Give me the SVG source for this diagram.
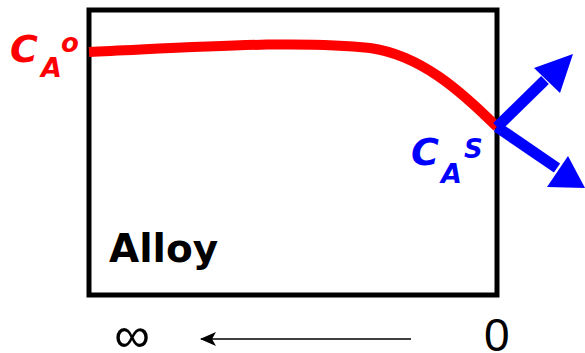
<svg xmlns="http://www.w3.org/2000/svg" width="585" height="353" viewBox="0 0 585 353">
<style>
.lbl{font-family:"DejaVu Sans",sans-serif;font-weight:bold;font-style:oblique}
.red{fill:#ff0000}
.blue{fill:#0000ff}
</style>
<defs>
<marker id="ah" markerWidth="16" markerHeight="14" refX="15" refY="7" orient="auto" markerUnits="userSpaceOnUse">
<path d="M0,0 L16,7 L0,14 L4,7 Z" fill="#000"/>
</marker>
</defs>
<g id="alloy">
<rect x="89" y="10" width="408" height="285" fill="#fff" stroke="#000" stroke-width="5"/>
<text x="109" y="262" font-family="DejaVu Sans,sans-serif" font-weight="bold" font-size="39">Alloy</text>
</g>
<g id="connectors">
<path d="M89,52 C200,47 300,40 370,48 C420,55 460,90 497,127" fill="none" stroke="#ff0000" stroke-width="10"/>
<path d="M497,127 L545,80" stroke="#0000ff" stroke-width="11" fill="none"/>
<polygon points="573,54 560,93 534,68" fill="#0000ff"/>
<path d="M497,127 L557,168" stroke="#0000ff" stroke-width="11" fill="none"/>
<polygon points="585,188 547,187 568,156" fill="#0000ff"/>
<line x1="411" y1="339" x2="201" y2="339" stroke="#000" stroke-width="1.5" marker-end="url(#ah)"/>
</g>
<g id="ca0">
<text class="lbl red" x="10" y="62" font-size="38">C</text>
<text class="lbl red" x="41" y="77" font-size="27">A</text>
<text class="lbl red" x="61" y="52" font-size="26">o</text>
</g>
<g id="cas">
<text class="lbl blue" x="411" y="165" font-size="38">C</text>
<text class="lbl blue" x="441" y="183" font-size="27">A</text>
<text class="lbl blue" x="464" y="158" font-size="26">S</text>
</g>
<g id="axis">
<text x="132" y="352" text-anchor="middle" font-family="Liberation Sans,sans-serif" font-size="50">∞</text>
<text x="484" y="351" font-family="Liberation Sans,sans-serif" font-size="46">0</text>
</g>
</svg>
